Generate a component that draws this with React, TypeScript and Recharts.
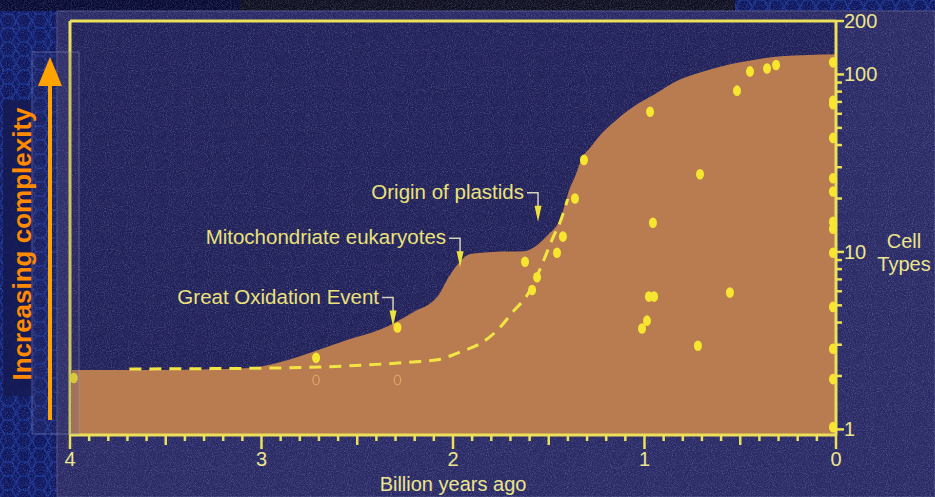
import {
  ComposedChart,
  Area,
  Line,
  Scatter,
  XAxis,
  YAxis,
  ReferenceLine,
  ReferenceDot,
} from "recharts";

// upper edge of the shaded "complexity" envelope (Ga, cell types)
const envelope = [
  { x: 3.99, y: 2.16 },
  { x: 3.58, y: 2.16 },
  { x: 3.06, y: 2.22 },
  { x: 2.9, y: 2.4 },
  { x: 2.73, y: 2.74 },
  { x: 2.55, y: 3.2 },
  { x: 2.38, y: 3.65 },
  { x: 2.21, y: 4.56 },
  { x: 2.08, y: 5.62 },
  { x: 2.02, y: 7.3 },
  { x: 1.96, y: 8.9 },
  { x: 1.91, y: 9.74 },
  { x: 1.79, y: 10 },
  { x: 1.63, y: 10.1 },
  { x: 1.51, y: 12.3 },
  { x: 1.44, y: 15.4 },
  { x: 1.39, y: 22.8 },
  { x: 1.36, y: 27 },
  { x: 1.33, y: 33.2 },
  { x: 1.285, y: 38.5 },
  { x: 1.23, y: 45.6 },
  { x: 1.17, y: 52.7 },
  { x: 1.06, y: 65.5 },
  { x: 0.95, y: 77 },
  { x: 0.815, y: 93.7 },
  { x: 0.71, y: 102.6 },
  { x: 0.5, y: 117 },
  { x: 0.29, y: 126.5 },
  { x: 0, y: 130 },
];

// dashed trend
const trend = [
  { x: 3.69, y: 2.19 },
  { x: 2.9, y: 2.22 },
  { x: 2.55, y: 2.28 },
  { x: 2.21, y: 2.4 },
  { x: 2.08, y: 2.47 },
  { x: 1.96, y: 2.74 },
  { x: 1.85, y: 3.08 },
  { x: 1.76, y: 3.7 },
  { x: 1.69, y: 4.56 },
  { x: 1.61, y: 5.77 },
  { x: 1.55, y: 7.8 },
  { x: 1.48, y: 11.9 },
  { x: 1.44, y: 14.8 },
  { x: 1.4, y: 20 },
];

// individual lineages
const samples = [
  { x: 3.98, y: 1.95 },
  { x: 2.715, y: 2.53 },
  { x: 2.29, y: 3.75 },
  { x: 1.624, y: 8.8 },
  { x: 1.587, y: 6.1 },
  { x: 1.561, y: 7.2 },
  { x: 1.457, y: 9.9 },
  { x: 1.426, y: 12.2 },
  { x: 1.363, y: 20 },
  { x: 1.316, y: 33 },
  { x: 1.013, y: 3.7 },
  { x: 0.987, y: 4.1 },
  { x: 0.977, y: 5.6 },
  { x: 0.95, y: 5.6 },
  { x: 0.956, y: 14.6 },
  { x: 0.971, y: 61.6 },
  { x: 0.721, y: 2.96 },
  { x: 0.71, y: 27.4 },
  { x: 0.554, y: 5.9 },
  { x: 0.517, y: 81 },
  { x: 0.449, y: 104 },
  { x: 0.36, y: 108 },
  { x: 0.313, y: 113 },
  { x: 0.016, y: 117 },
  { x: 0.016, y: 71 },
  { x: 0.016, y: 68 },
  { x: 0.016, y: 43.9 },
  { x: 0.016, y: 26 },
  { x: 0.016, y: 21.9 },
  { x: 0.016, y: 14.8 },
  { x: 0.016, y: 13.5 },
  { x: 0.016, y: 9.9 },
  { x: 0.016, y: 4.9 },
  { x: 0.016, y: 2.85 },
  { x: 0.016, y: 1.92 },
  { x: 0.016, y: 1.03 },
];

const zeroMarks = [
  { x: 2.715, y: 1.9 },
  { x: 2.29, y: 1.9 },
];

const events = [
  { label: "Great Oxidation Event", x: 2.313, y: 3.8 },
  { label: "Mitochondriate eukaryotes", x: 1.963, y: 8.2 },
  { label: "Origin of plastids", x: 1.556, y: 14.8 },
];

const xTicks = [
  0, 0.1, 0.2, 0.3, 0.4, 0.5, 0.6, 0.7, 0.8, 0.9, 1, 1.1, 1.2, 1.3, 1.4, 1.5,
  1.6, 1.7, 1.8, 1.9, 2, 2.1, 2.2, 2.3, 2.4, 2.5, 2.6, 2.7, 2.8, 2.9, 3, 3.1,
  3.2, 3.3, 3.4, 3.5, 3.6, 3.7, 3.8, 3.9, 4,
];
const yTicks = [1, 2, 3, 4, 5, 6, 7, 8, 9, 10, 20, 30, 40, 50, 60, 70, 80, 90, 100, 200];
const yLabels = [1, 10, 100, 200];

const YELLOW = "#ece05a";
const LABEL = "#ece58c";
const FONT = "'Liberation Sans', Arial, Helvetica, sans-serif";

const XTick = ({ x, y, payload }: any) => {
  const v = payload.value;
  const major = Math.abs(v - Math.round(v)) < 1e-6;
  const half = !major && Math.abs(v * 2 - Math.round(v * 2)) < 1e-6;
  const len = major ? 14 : half ? 10 : 6;
  return (
    <g>
      <line x1={x} x2={x} y1={y} y2={y + len} stroke={YELLOW} strokeWidth={2.5} />
      {major && (
        <text x={x} y={y + 31} textAnchor="middle" fill={LABEL} fontSize={20} fontFamily={FONT}>
          {Math.round(v)}
        </text>
      )}
    </g>
  );
};

const YTick = ({ x, y, payload }: any) => {
  const v = payload.value;
  const major = yLabels.includes(v);
  return (
    <g>
      <line x1={x} x2={x + (major ? 8 : 6)} y1={y} y2={y} stroke={YELLOW} strokeWidth={2.5} />
      {major && (
        <text x={x + 8} y={y + 7} fill={LABEL} fontSize={20} fontFamily={FONT}>
          {v}
        </text>
      )}
    </g>
  );
};

const Dot = ({ cx, cy }: any) => <ellipse cx={cx} cy={cy} rx={4} ry={5.3} fill="#f6e630" />;
const Hollow = ({ cx, cy }: any) => (
  <ellipse cx={cx} cy={cy} rx={3.2} ry={4.8} fill="none" stroke="#e0a464" strokeWidth={1.2} />
);

const EventMarker = ({ cx, cy, label }: any) => (
  <g>
    <text
      x={cx - 14}
      y={cy - 23}
      textAnchor="end"
      fill="#ebe27a"
      fontSize={20.5}
      fontFamily={FONT}
    >
      {label}
    </text>
    <polyline
      points={`${cx - 11},${cy - 29} ${cx},${cy - 29} ${cx},${cy - 14}`}
      stroke="#d6d4bc"
      strokeWidth={1.5}
      fill="none"
    />
    <polygon points={`${cx - 3.5},${cy - 16} ${cx + 3.5},${cy - 16} ${cx},${cy}`} fill="#ece23c" />
  </g>
);

function Backdrop() {
  return (
    <svg width={935} height={497} style={{ position: "absolute", left: 0, top: 0 }}>
      <defs>
        <pattern id="hex" width={16} height={14} patternUnits="userSpaceOnUse">
          <rect width={16} height={14} fill="#091560" />
          <path d="M4 0 L12 0 L16 7 L12 14 L4 14 L0 7 Z" fill="none" stroke="#142e94" strokeWidth={1.6} />
        </pattern>
        <filter id="grainLight">
          <feTurbulence type="fractalNoise" baseFrequency="0.95" numOctaves={2} seed={4} />
          <feColorMatrix
            type="matrix"
            values="0 0 0 0 0.55  0 0 0 0 0.55  0 0 0 0 0.9  1.8 0 0 0 -0.75"
          />
        </filter>
        <filter id="grainDark">
          <feTurbulence type="fractalNoise" baseFrequency="0.8" numOctaves={2} seed={11} />
          <feColorMatrix
            type="matrix"
            values="0 0 0 0 0.02  0 0 0 0 0.02  0 0 0 0 0.08  1.8 0 0 0 -0.7"
          />
        </filter>
      </defs>
      <rect width={935} height={497} fill="url(#hex)" />
      <rect x={0} y={0} width={240} height={11} fill="#03062e" />
      <rect x={240} y={0} width={495} height={11} fill="#0c0c1a" />
      <rect x={57} y={11} width={878} height={486} fill="#2a2a68" stroke="#55558c" strokeWidth={1} />
      <rect x={70} y={21} width={766} height={414} fill="#20205a" />
      <rect x={57} y={11} width={878} height={486} filter="url(#grainLight)" opacity={0.35} />
      <rect x={57} y={11} width={878} height={486} filter="url(#grainDark)" opacity={0.5} />
    </svg>
  );
}

function Overlay() {
  return (
    <svg
      width={935}
      height={497}
      style={{ position: "absolute", left: 0, top: 0, pointerEvents: "none" }}
    >
      <rect x={3} y={100} width={30} height={296} fill="#151a52" opacity={0.85} />
      <rect
        x={32}
        y={52}
        width={47}
        height={382}
        fill="rgba(70,70,120,0.18)"
        stroke="rgba(150,150,200,0.45)"
        strokeWidth={1}
      />
      <line x1={50} x2={50} y1={420} y2={82} stroke="#ffa300" strokeWidth={4} />
      <polygon points="50,57 38,86 62,86" fill="#ffa300" />
      <text
        transform="translate(31,244) rotate(-90)"
        textAnchor="middle"
        fill="#ff8a00"
        fontSize={26}
        fontWeight="bold"
        fontFamily={FONT}
      >
        Increasing complexity
      </text>
      <text x={453} y={491} textAnchor="middle" fill={LABEL} fontSize={20} fontFamily={FONT}>
        Billion years ago
      </text>
      <text x={904} y={248} textAnchor="middle" fill={LABEL} fontSize={20} fontFamily={FONT}>
        Cell
      </text>
      <text x={904} y={271} textAnchor="middle" fill={LABEL} fontSize={20} fontFamily={FONT}>
        Types
      </text>
    </svg>
  );
}

export default function App() {
  return (
    <div
      style={{
        position: "absolute",
        left: 0,
        top: 0,
        width: 935,
        height: 497,
        overflow: "hidden",
        fontFamily: FONT,
      }}
    >
      <Backdrop />
      <div style={{ position: "absolute", left: 0, top: 0 }}>
        <ComposedChart width={935} height={497} margin={{ top: 21, right: 0, bottom: 0, left: 70 }}>
          <XAxis
            type="number"
            dataKey="x"
            domain={[0, 4]}
            reversed
            allowDataOverflow
            ticks={xTicks}
            interval={0}
            tick={<XTick />}
            tickLine={false}
            tickSize={0}
            tickMargin={0}
            height={62}
            axisLine={{ stroke: YELLOW, strokeWidth: 3 }}
          />
          <YAxis
            type="number"
            dataKey="y"
            orientation="right"
            scale="log"
            domain={[0.93, 200]}
            allowDataOverflow
            ticks={yTicks}
            interval={0}
            tick={<YTick />}
            tickLine={false}
            tickSize={0}
            tickMargin={0}
            width={99}
            axisLine={{ stroke: YELLOW, strokeWidth: 3 }}
          />
          <Area
            data={envelope}
            dataKey="y"
            type="monotone"
            stroke="none"
            fill="#b97c51"
            fillOpacity={1}
            baseValue="dataMin"
            isAnimationActive={false}
          />
          <Line
            data={trend}
            dataKey="y"
            type="monotone"
            stroke="#f1e443"
            strokeWidth={3}
            strokeDasharray="12 8"
            dot={false}
            isAnimationActive={false}
          />
          <Scatter data={zeroMarks} dataKey="y" shape={<Hollow />} isAnimationActive={false} />
          <Scatter data={samples} dataKey="y" shape={<Dot />} isAnimationActive={false} />
          <ReferenceLine x={4} stroke={YELLOW} strokeWidth={3} />
          <ReferenceLine y={200} stroke={YELLOW} strokeWidth={3} />
          {events.map((e) => (
            <ReferenceDot
              key={e.label}
              x={e.x}
              y={e.y}
              shape={(p: any) => <EventMarker {...p} label={e.label} />}
            />
          ))}
        </ComposedChart>
      </div>
      <Overlay />
    </div>
  );
}
